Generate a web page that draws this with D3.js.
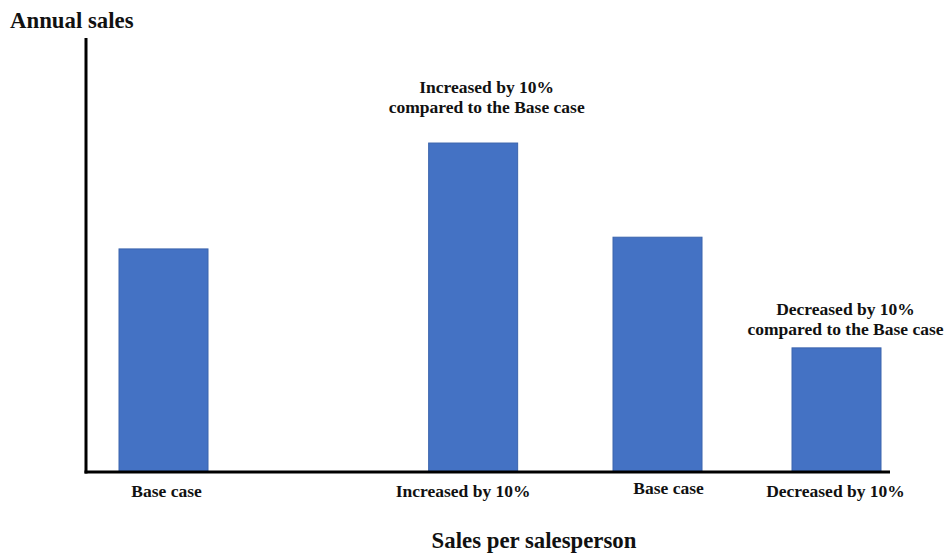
<!DOCTYPE html>
<html>
<head>
<meta charset="utf-8">
<script src="https://cdn.jsdelivr.net/npm/d3@7/dist/d3.min.js"></script>
<style>
  html, body { margin: 0; padding: 0; background: #fff; }
  svg text { font-family: "Liberation Serif", "Times New Roman", serif; font-weight: bold; fill: #111; }
</style>
</head>
<body>
<svg id="chart" width="949" height="558"></svg>
<script>
// Bar categories and their (relative) annual sales values
const categories = ["Base case", "Increased by 10%", "Base case", "Decreased by 10%"];
const values = [51.4, 75.8, 54.1, 28.6];
// Notes written above selected bars
const notes = [null, ["Increased by 10%", "compared to the Base case"], null, ["Decreased by 10%", "compared to the Base case"]];
const yTitle = "Annual sales";
const xTitle = "Sales per salesperson";

// Horizontal slot of each bar along the x axis (bars are grouped, not evenly spaced)
const slots = [0, 1.73, 2.76, 3.76];
const labelNudge = [3, -10, 11, -1];
const labelLift = [0, 0, 3, 0];
const noteNudge = [0, 13.5, 0, 9];
const noteGap = [0, 50, 0, 33];

const svg = d3.select("#chart");
const x0 = 86, x1 = 890, yTop = 38, yBase = 472;
const barW = 89;
const labelSize = 17.5;

const x = d3.scaleLinear().domain([0, 3.76]).range([163.5, 836.5]);
const y = d3.scaleLinear().domain([0, 100]).range([yBase, yTop]);

// Bars
svg.selectAll("rect.bar")
  .data(values)
  .join("rect")
  .attr("class", "bar")
  .attr("x", (d, i) => x(slots[i]) - barW / 2)
  .attr("width", barW)
  .attr("y", d => y(d))
  .attr("height", d => y(0) - y(d))
  .attr("fill", "#4472C4")
  .attr("stroke", "#3b64ad")
  .attr("stroke-width", 1);

// Axes lines
svg.append("line")
  .attr("x1", x0).attr("x2", x0).attr("y1", yTop).attr("y2", yBase + 1.5)
  .attr("stroke", "#000").attr("stroke-width", 3);
svg.append("line")
  .attr("x1", x0 - 1.5).attr("x2", x1).attr("y1", yBase).attr("y2", yBase)
  .attr("stroke", "#000").attr("stroke-width", 3);

// Category labels under the axis
svg.selectAll("text.cat")
  .data(categories)
  .join("text")
  .attr("class", "cat")
  .attr("x", (d, i) => x(slots[i]) + labelNudge[i])
  .attr("y", (d, i) => 497 - labelLift[i])
  .attr("text-anchor", "middle")
  .attr("font-size", labelSize)
  .text(d => d);

// Notes above bars
notes.forEach((lines, i) => {
  if (!lines) return;
  const cx = x(slots[i]) + noteNudge[i];
  const t = svg.append("text")
    .attr("text-anchor", "middle")
    .attr("font-size", labelSize);
  lines.forEach((ln, k) => {
    t.append("tspan")
      .attr("x", cx)
      .attr("y", y(values[i]) - noteGap[i] + k * 20)
      .text(ln);
  });
});

// Axis titles
svg.append("text")
  .attr("x", 10).attr("y", 28)
  .attr("font-size", 22.8)
  .text(yTitle);
svg.append("text")
  .attr("x", 534).attr("y", 548)
  .attr("text-anchor", "middle")
  .attr("font-size", 22.8)
  .text(xTitle);
</script>
</body>
</html>
